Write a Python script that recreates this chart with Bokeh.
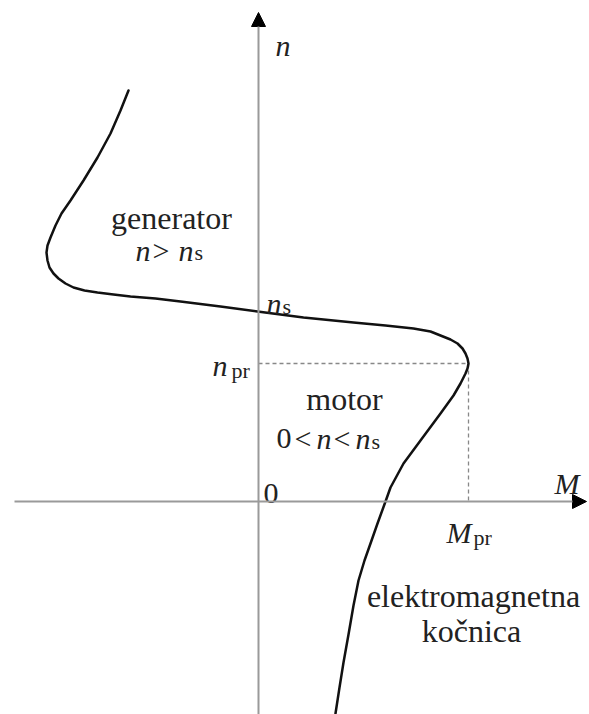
from bokeh.plotting import figure
from bokeh.models import Arrow, NormalHead, ColumnDataSource
from bokeh.core.properties import value
from bokeh.embed import file_html
from bokeh.resources import INLINE

# torque-speed characteristic (arbitrary units; origin at axes crossing)
torque = [-130, -138, -148, -161, -175, -188, -197, -203, -208, -211, -212, -211,
          -209, -205, -200, -193, -185, -174, -161, -145, -128, -103, -78, -38,
          -1, 45, 95, 127, 155, 172, 182, 192, 199, 204, 207, 209, 210, 209,
          207, 202, 195, 182, 162, 145, 132, 127, 119, 112, 106, 100, 95, 90,
          85, 81, 77]
speed = [411, 391, 368, 344, 321, 301, 288, 276, 264, 256, 249, 241,
         234, 228, 223, 218, 214, 211, 209, 207, 205, 203, 200, 195,
         190, 184, 179, 176, 173, 170, 166, 162, 158, 153, 148, 143, 138, 133,
         128, 118, 106, 88, 61, 38, 14, 0, -22, -42, -59, -79, -104, -133,
         -161, -186, -212]

n_s = 190      # synchronous speed
n_pr = 138     # breakdown speed
M_pr = 210     # breakdown torque

FONT = value("Liberation Serif")
TXT = "#222222"
S = 30
W = 32
SUB = 22

p = figure(width=589, height=714, x_range=(-258, 331), y_range=(-213, 501),
           output_backend="svg", toolbar_location=None,
           x_axis_location=None, y_axis_location=None,
           min_border=0, outline_line_color=None, background_fill_color="white")
p.grid.visible = False

# axes
p.add_layout(Arrow(end=NormalHead(size=14, fill_color="black", line_color="black", line_width=1),
                   x_start=-244, y_start=0, x_end=328, y_end=0,
                   line_color="#9a9a9a", line_width=2))
p.add_layout(Arrow(end=NormalHead(size=14, fill_color="black", line_color="black", line_width=1),
                   x_start=0, y_start=-215, x_end=0, y_end=489,
                   line_color="#9a9a9a", line_width=2))

# dashed guides to breakdown point
p.line(x=[0, M_pr], y=[n_pr, n_pr], line_color="#888888", line_width=1.3, line_dash="4 3")
p.line(x=[M_pr, M_pr], y=[n_pr, 0], line_color="#888888", line_width=1.3, line_dash="4 3")

# characteristic
src = ColumnDataSource(dict(M=torque, n=speed))
p.line(x="M", y="n", source=src, line_color="#111111", line_width=2.5,
       line_join="round", line_cap="round")


def put(x, y, txt, size=S, style="normal", align="left"):
    p.text(x=[x], y=[y], text=[txt], text_font=FONT, text_font_size=f"{size}px",
           text_font_style=style, text_baseline="alphabetic", text_align=align,
           text_color=TXT)


# axis labels
put(17, 456, "n", style="italic")
put(296, 18, "M", style="italic")
put(5, 8, "0")

# generator region
put(-87, 284, "generator", size=W, align="center")
put(-123, 251, "n", style="italic")
put(-106, 251, ">")
put(-80, 251, "n", style="italic")
put(-64, 249, "s", size=SUB)

# n_s
put(8, n_s + 8, "n", style="italic")
put(24, n_s + 5, "s", size=SUB)

# n_pr
put(-46, n_pr - 2, "n", style="italic")
put(-27, n_pr - 7, "pr", size=SUB)

# motor region
put(86, 103, "motor", size=W, align="center")
put(18, 63, "0")
put(36, 63, "<")
put(58, 63, "n", style="italic")
put(75, 63, "<")
put(97, 63, "n", style="italic")
put(113, 60, "s", size=SUB)

# M_pr
put(M_pr - 22, -31, "M", style="italic")
put(M_pr + 5, -36, "pr", size=SUB)

# brake region
put(215, -94, "elektromagnetna", size=W, align="center")
put(213, -129, "kočnica", size=W, align="center")

open("out.html", "w").write(file_html(p, INLINE))
